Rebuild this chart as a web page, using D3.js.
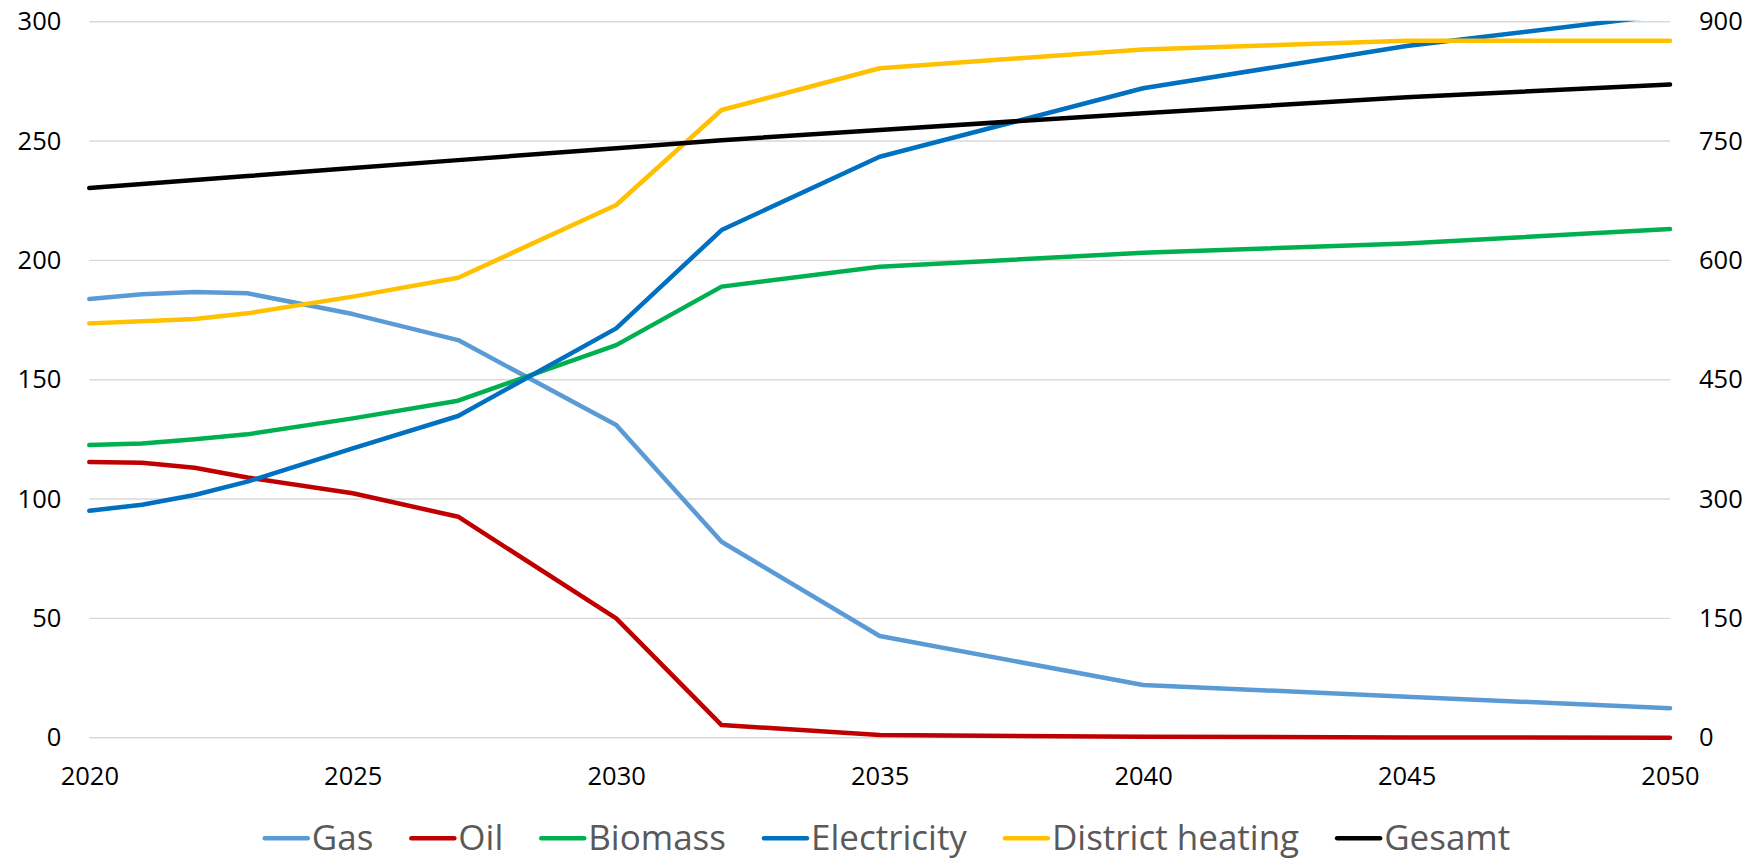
<!DOCTYPE html>
<html>
<head>
<meta charset="utf-8">
<script src="https://cdn.jsdelivr.net/npm/d3@7"></script>
<style>
  html, body { margin: 0; padding: 0; background: #ffffff; }
  svg { display: block; font-family: "Open Sans", sans-serif; }
</style>
</head>
<body>
<svg id="chart" width="1760" height="859"></svg>
<script>
// ---- data ----
const years = [2020, 2021, 2022, 2023, 2025, 2027, 2030, 2032, 2035, 2040, 2045, 2050];
const gas = [183.8, 185.8, 186.7, 186.2, 177.5, 166.6, 131.0, 82.1, 42.6, 22.1, 17.2, 12.3];
const oil = [115.5, 115.2, 113.1, 109.0, 102.4, 92.6, 50.0, 5.3, 1.1, 0.4, 0.1, 0.0];
const biomass = [122.6, 123.3, 125.0, 127.1, 133.8, 141.2, 164.5, 189.0, 197.3, 203.2, 207.1, 213.1];
const electricity = [95.1, 97.6, 101.7, 107.3, 121.2, 134.8, 171.5, 212.7, 243.4, 272.1, 289.8, 303.0];
const districtHeating = [173.6, 174.5, 175.4, 177.8, 184.8, 192.7, 223.2, 263.0, 280.5, 288.4, 292.0, 292.0];
const gesamt = [691, 696, 701, 706, 716, 726, 741, 751, 764, 785, 805, 821]; // secondary axis
const leftTicks = [0, 50, 100, 150, 200, 250, 300];
const rightTicks = [0, 150, 300, 450, 600, 750, 900];
const xTicks = [2020, 2025, 2030, 2035, 2040, 2045, 2050];
const seriesNames = ["Gas", "Oil", "Biomass", "Electricity", "District heating", "Gesamt"];
const seriesColors = ["#5B9BD5", "#C00000", "#00B050", "#0070C0", "#FFC000", "#000000"];

// ---- layout ----
const plot = { left: 89.3, right: 1670, top: 21.7, bottom: 737.7 };
const svg = d3.select("#chart");

const x = d3.scaleLinear().domain([2020, 2050]).range([plot.left, plot.right]);
const yL = d3.scaleLinear().domain([0, 300]).range([plot.bottom, plot.top]);
const yR = d3.scaleLinear().domain([0, 900]).range([plot.bottom, plot.top]);

// gridlines
svg.append("g").selectAll("line").data(leftTicks).join("line")
  .attr("x1", plot.left).attr("x2", plot.right)
  .attr("y1", d => yL(d)).attr("y2", d => yL(d))
  .attr("stroke", "#d9d9d9").attr("stroke-width", 1.4);

// axes
const tickFont = 25.5;
const gL = svg.append("g").attr("transform", `translate(${plot.left},0)`)
  .call(d3.axisLeft(yL).tickValues(leftTicks).tickSize(0).tickPadding(28).tickFormat(d3.format("d")));
const gR = svg.append("g").attr("transform", `translate(${plot.right},0)`)
  .call(d3.axisRight(yR).tickValues(rightTicks).tickSize(0).tickPadding(29).tickFormat(d3.format("d")));
const gB = svg.append("g").attr("transform", `translate(0,${plot.bottom})`)
  .call(d3.axisBottom(x).tickValues(xTicks).tickSize(0).tickPadding(29).tickFormat(d3.format("d")));
[gL, gR, gB].forEach(g => {
  g.select(".domain").remove();
  g.selectAll("text").attr("font-size", tickFont).attr("font-family", "'Open Sans', sans-serif").attr("fill", "#000");
});

// clip
svg.append("clipPath").attr("id", "plotclip").append("rect")
  .attr("x", 0).attr("y", plot.top - 1).attr("width", 1760).attr("height", plot.bottom - plot.top + 20);

const primary = [gas, oil, biomass, electricity, districtHeating];
const lineL = d3.line().x((d, i) => x(years[i])).y(d => yL(d));
const lineR = d3.line().x((d, i) => x(years[i])).y(d => yR(d));

const lines = svg.append("g").attr("clip-path", "url(#plotclip)");
primary.forEach((s, k) => {
  lines.append("path").datum(s).attr("d", lineL)
    .attr("fill", "none").attr("stroke", seriesColors[k]).attr("stroke-width", 4.5)
    .attr("stroke-linejoin", "round").attr("stroke-linecap", "round");
});
lines.append("path").datum(gesamt).attr("d", lineR)
  .attr("fill", "none").attr("stroke", seriesColors[5]).attr("stroke-width", 4.5)
  .attr("stroke-linejoin", "round").attr("stroke-linecap", "round");

// legend
const legendFont = 35;
const swatch = 43, swGap = 4, itemGap = 38, legendY = 838.3, legendCenter = 887.5;
const lg = svg.append("g");
const items = seriesNames.map((name, i) => {
  const g = lg.append("g");
  g.append("line").attr("x1", 0).attr("x2", swatch).attr("y1", 0).attr("y2", 0)
    .attr("stroke", seriesColors[i]).attr("stroke-width", 4.5).attr("stroke-linecap", "round");
  const t = g.append("text").attr("x", swatch + swGap).attr("y", 12)
    .attr("font-size", legendFont).attr("fill", "#595959").text(name);
  return { g, w: swatch + swGap + t.node().getComputedTextLength() };
});
const total = d3.sum(items, d => d.w) + itemGap * (items.length - 1);
let cx = legendCenter - total / 2;
items.forEach(it => {
  it.g.attr("transform", `translate(${cx},${legendY})`);
  cx += it.w + itemGap;
});
</script>
</body>
</html>
